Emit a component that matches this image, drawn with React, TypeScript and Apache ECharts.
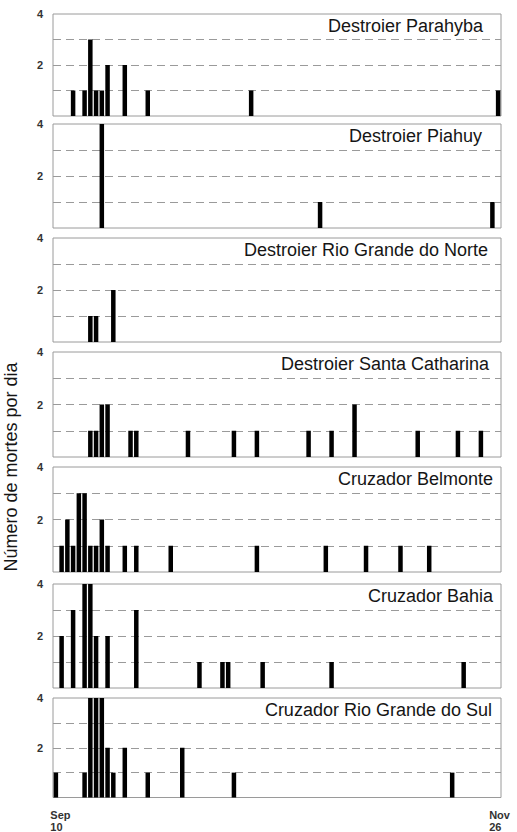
import React, { useEffect, useRef } from "react";
import * as echarts from "echarts";

// ---- data ----
const shipNames = [
  "Destroier Parahyba",
  "Destroier Piahuy",
  "Destroier Rio Grande do Norte",
  "Destroier Santa Catharina",
  "Cruzador Belmonte",
  "Cruzador Bahia",
  "Cruzador Rio Grande do Sul",
];

// day index counted from Sep 10 (0) to Nov 26 (77)
const parahybaDay = [3, 5, 6, 7, 8, 9, 12, 16, 34, 77];
const parahybaDeaths = [1, 1, 3, 1, 1, 2, 2, 1, 1, 1];

const piahuyDay = [8, 46, 76];
const piahuyDeaths = [4, 1, 1];

const rgNorteDay = [6, 7, 10];
const rgNorteDeaths = [1, 1, 2];

const santaCatharinaDay = [6, 7, 8, 9, 13, 14, 23, 31, 35, 44, 48, 52, 63, 70, 74];
const santaCatharinaDeaths = [1, 1, 2, 2, 1, 1, 1, 1, 1, 1, 1, 2, 1, 1, 1];

const belmonteDay = [1, 2, 3, 4, 5, 6, 7, 8, 9, 12, 14, 20, 35, 47, 54, 60, 65];
const belmonteDeaths = [1, 2, 1, 3, 3, 1, 1, 2, 1, 1, 1, 1, 1, 1, 1, 1, 1];

const bahiaDay = [1, 3, 5, 6, 7, 9, 14, 25, 29, 30, 36, 48, 71];
const bahiaDeaths = [2, 3, 4, 4, 2, 2, 3, 1, 1, 1, 1, 1, 1];

const rgSulDay = [0, 5, 6, 7, 8, 9, 10, 12, 16, 22, 31, 69];
const rgSulDeaths = [1, 1, 4, 4, 4, 2, 1, 2, 1, 2, 1, 1];

const seriesDays = [parahybaDay, piahuyDay, rgNorteDay, santaCatharinaDay, belmonteDay, bahiaDay, rgSulDay];
const seriesDeaths = [parahybaDeaths, piahuyDeaths, rgNorteDeaths, santaCatharinaDeaths, belmonteDeaths, bahiaDeaths, rgSulDeaths];

const yTickLabels = ["2", "4"];
const xEndLabels = { first: ["Sep", "10"], last: ["Nov", "26"] };
const yAxisTitle = "Número de mortes por dia";

// categories: every day from Sep 10 to Nov 26
const monthNames = ["Sep", "Oct", "Nov"];
const monthLengths = [30, 31, 30];
const dayCategories: string[] = [];
{
  let m = 0;
  let d = 10;
  while (!(m === 2 && d > 26)) {
    dayCategories.push(`${monthNames[m]} ${d}`);
    d++;
    if (d > monthLengths[m]) {
      d = 1;
      m++;
    }
  }
}

// ---- layout ----
const panelTops = [14, 124, 238, 352, 467, 584, 698];
const panelHeights = [102, 104, 104, 105, 105, 104, 102];
const titleRights = [34, 35, 29, 28, 24, 24, 25];
const FONT = "'Liberation Sans', Arial, Helvetica, sans-serif";

export default function App() {
  const ref = useRef<HTMLDivElement>(null);

  useEffect(() => {
    if (!ref.current) return;
    const chart = echarts.init(ref.current, null, { renderer: "svg" });
    const n = shipNames.length;

    const labelStyle = {
      width: 22,
      align: "left",
      fontSize: 11,
      fontWeight: "bold",
      color: "#333",
      fontFamily: FONT,
      lineHeight: 12,
    };

    const grids = panelTops.map((t, i) => ({
      left: 53,
      right: 16,
      top: t,
      height: panelHeights[i],
      show: true,
      borderColor: "#9a9a9a",
      borderWidth: 1,
      backgroundColor: "#fff",
    }));

    const xAxes = panelTops.map((_, i) => ({
      type: "category",
      gridIndex: i,
      data: dayCategories,
      boundaryGap: true,
      axisLine: { show: false },
      axisTick: { show: false },
      splitLine: { show: false },
      axisLabel: {
        show: i === n - 1,
        interval: (idx: number) => idx === 0 || idx === dayCategories.length - 1,
        formatter: (_v: string, idx: number) =>
          idx === 0
            ? `{s|${xEndLabels.first[0]}}\n{s|${xEndLabels.first[1]}}`
            : `{e|${xEndLabels.last[0]}}\n{e|${xEndLabels.last[1]}}`,
        margin: 11,
        rich: {
          s: { ...labelStyle, padding: [0, 0, 0, 11] },
          e: { ...labelStyle, padding: [0, 0, 0, 4] },
        },
      },
    }));

    const yAxes = panelTops.map((_, i) => ({
      type: "value",
      gridIndex: i,
      min: 0,
      max: 4,
      interval: 1,
      axisLine: { show: false },
      axisTick: { show: false },
      axisLabel: {
        margin: 10,
        fontSize: 11,
        fontWeight: "bold",
        color: "#333",
        fontFamily: FONT,
        formatter: (v: number) => (yTickLabels.includes(String(v)) ? String(v) : ""),
      },
      splitLine: {
        show: true,
        showMinLine: false,
        showMaxLine: false,
        lineStyle: { color: "#9a9a9a", type: [8, 5], width: 1 },
      },
    }));

    const series = seriesDays.map((days, i) => ({
      type: "bar",
      name: shipNames[i],
      xAxisIndex: i,
      yAxisIndex: i,
      barWidth: 4.5,
      itemStyle: { color: "#000" },
      data: days.map((d, k) => [d, seriesDeaths[i][k]]),
    }));

    const titles = shipNames.map((s, i) => ({
      text: s,
      right: titleRights[i],
      top: panelTops[i] + 3,
      padding: 0,
      textStyle: { fontSize: 18, fontWeight: "normal", color: "#151515", fontFamily: FONT },
    }));

    chart.setOption({
      animation: false,
      backgroundColor: "#fff",
      title: titles,
      grid: grids,
      xAxis: xAxes,
      yAxis: yAxes,
      series,
      graphic: [
        {
          type: "text",
          x: 11,
          y: 467,
          rotation: Math.PI / 2,
          style: {
            text: yAxisTitle,
            fontSize: 18,
            fontFamily: FONT,
            fill: "#151515",
            textAlign: "center",
            textVerticalAlign: "middle",
          },
        },
      ],
    });

    return () => chart.dispose();
  }, []);

  return (
    <div
      ref={ref}
      style={{ position: "fixed", left: 0, top: 0, width: 517, height: 832, background: "#fff" }}
    />
  );
}
